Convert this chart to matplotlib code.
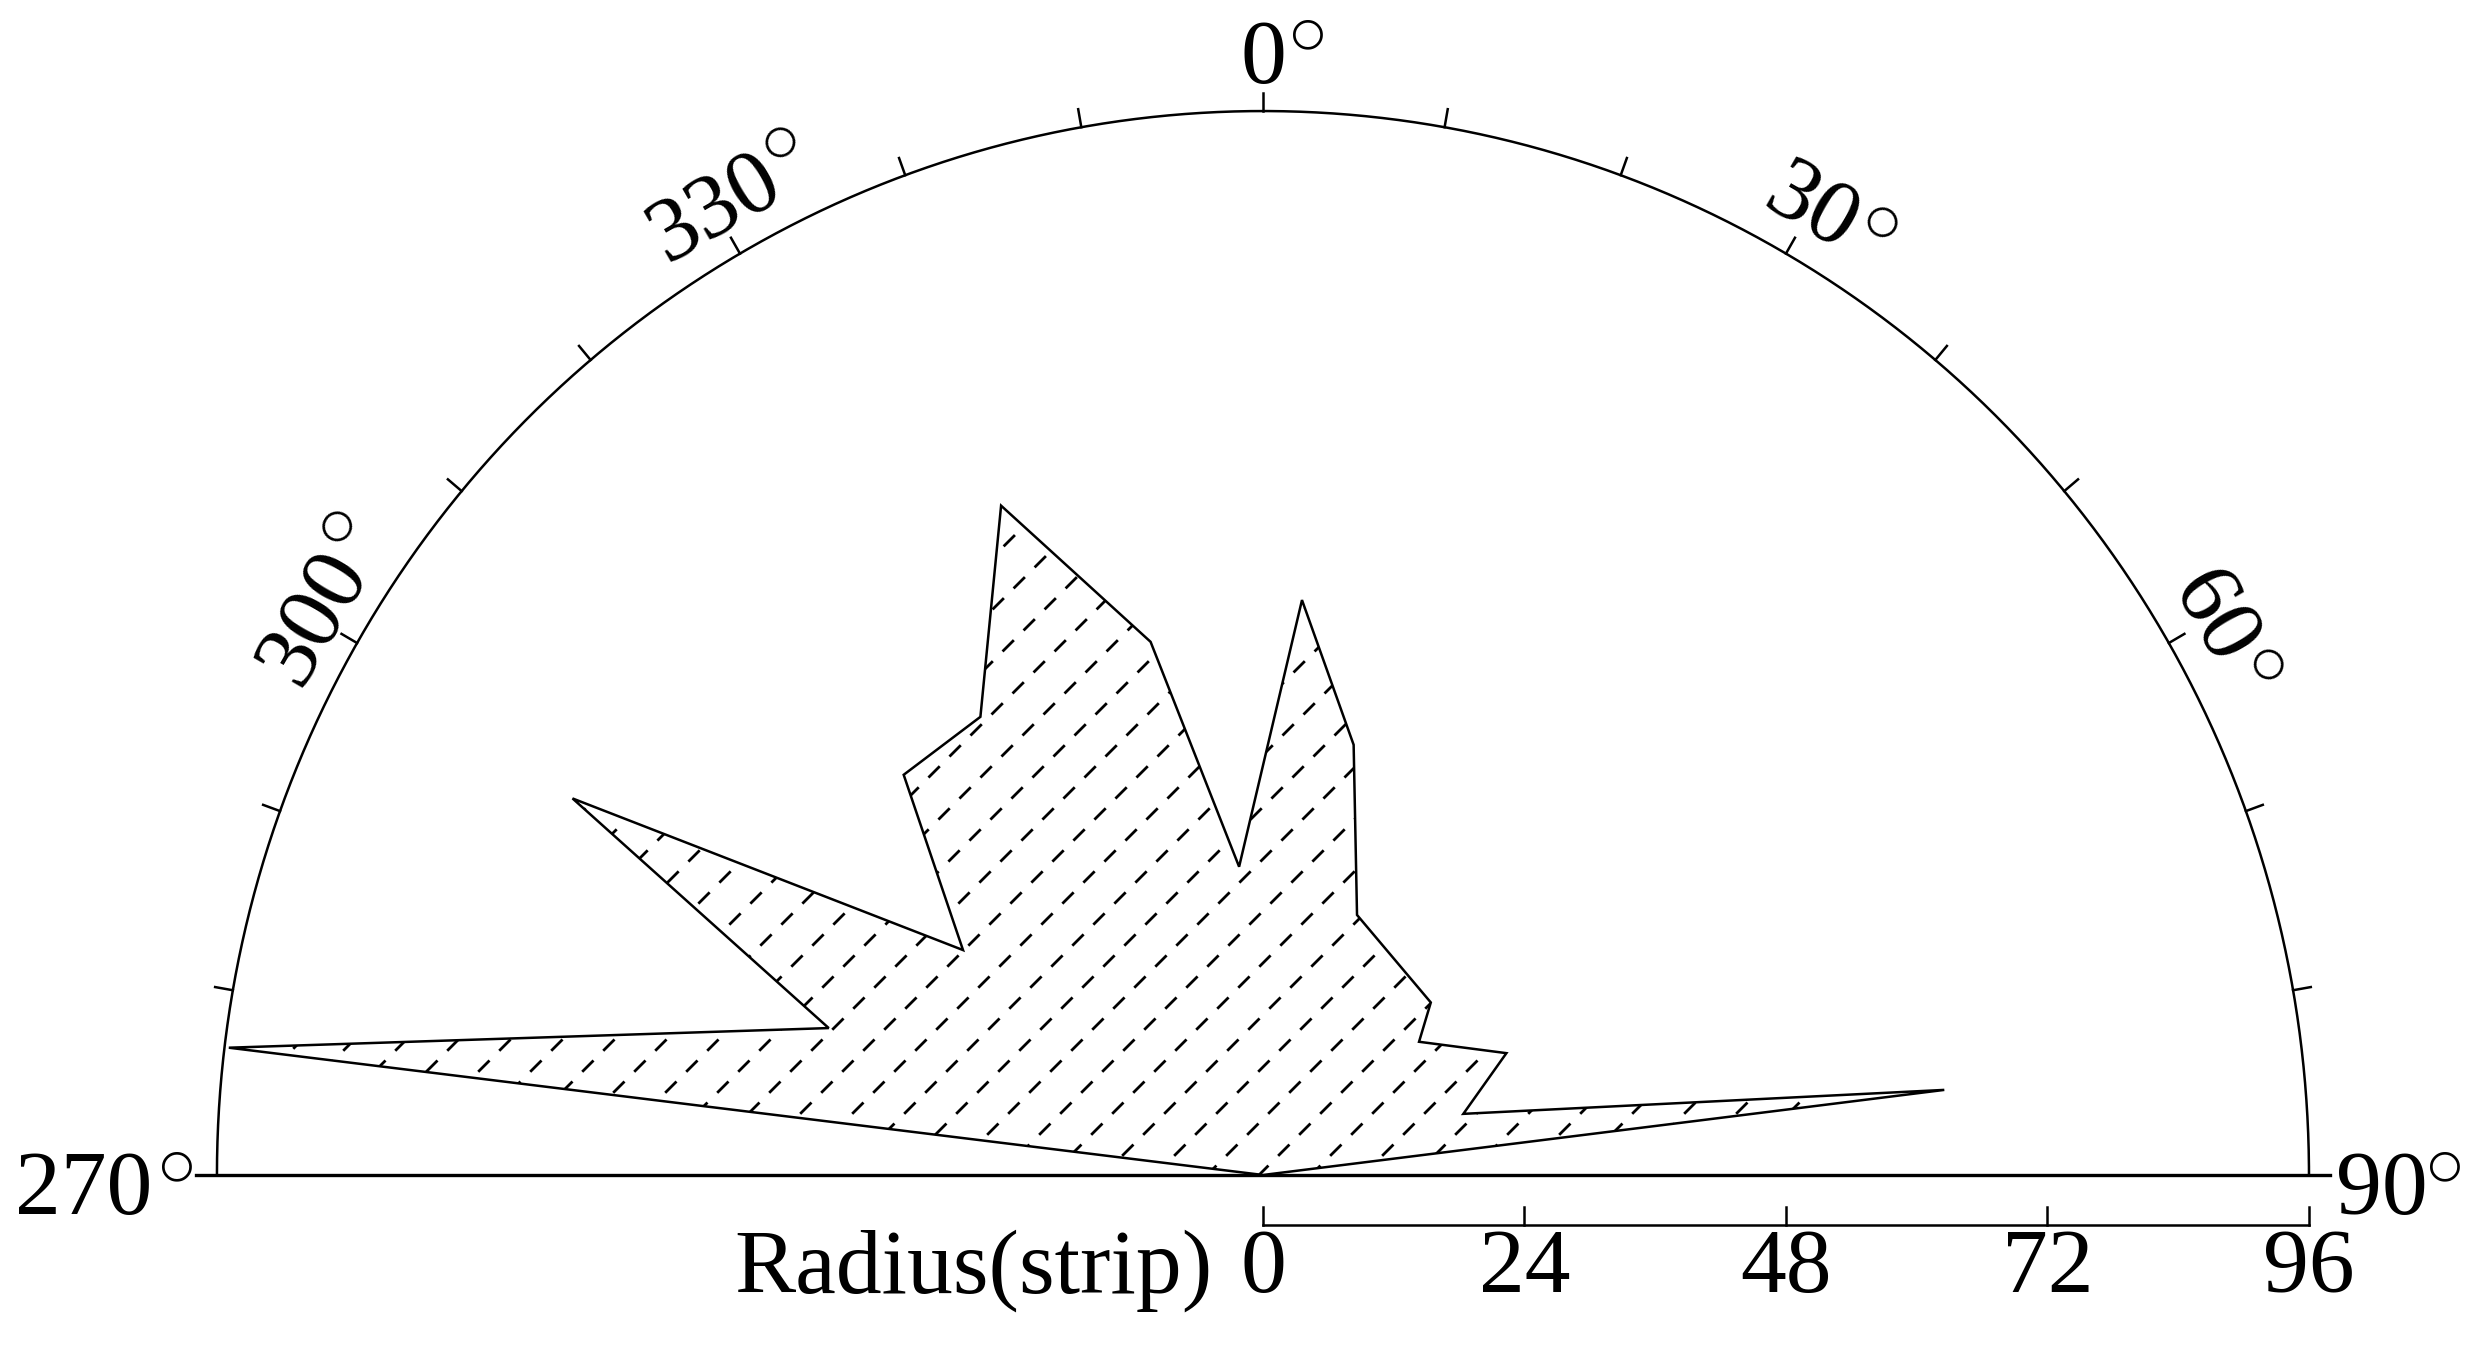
import numpy as np
import matplotlib
matplotlib.use('Agg')
import matplotlib.pyplot as plt
from matplotlib.patches import Polygon
from matplotlib.collections import LineCollection
from matplotlib.transforms import IdentityTransform

plt.rcParams['font.family'] = ['Liberation Serif', 'DejaVu Serif']
plt.rcParams['mathtext.fontset'] = 'stix'
plt.rcParams['lines.scale_dashes'] = False

# rose outline: azimuth (deg, clockwise from north) and radius (strip)
azimuth = [276.9, 288.4, 298.2, 306.4, 317.6, 327.9, 338.3, 347.9, 355.5,
           3.95, 12.1, 20.2, 44.7, 50.0, 63.8, 73.3, 83.0]
radius = [95.6, 42.0, 71.9, 34.2, 48.9, 48.8, 65.0, 49.2, 27.9,
          52.0, 39.7, 25.0, 21.9, 18.7, 24.9, 19.2, 63.0]

r_max = 96
angle_labels = [300, 330, 0, 30, 60]
radius_ticks = [0, 24, 48, 72, 96]

W, H = 2477, 1345
PT = 72 / 100  # points per pixel
fig = plt.figure(figsize=(W / 100, H / 100), dpi=100)
ax = fig.add_axes([0, 0, 1, 1])
ax.set_xlim(-115.91, 111.42)
ax.set_ylim(-15.34, 106.02)
ax.axis('off')


def to_xy(az, r):
    t = np.deg2rad(az)
    return r * np.sin(t), r * np.cos(t)


# outer half circle
t = np.linspace(-90, 90, 400)
ax.plot(*to_xy(t, r_max), color='k', lw=1.8)
# base line
ax.plot([-r_max - 1.9, r_max + 1.9], [0, 0], color='k', lw=2.4)
# ticks every 10 deg
for a in range(-80, 90, 10):
    x0, y0 = to_xy(a, r_max)
    x1, y1 = to_xy(a, r_max + 1.65)
    ax.plot([x0, x1], [y0, y1], color='k', lw=1.8)

# rose polygon
px, py = to_xy(np.array(azimuth), np.array(radius))
verts = [(0, 0)] + list(zip(px, py))
poly = Polygon(verts, closed=True, facecolor='white', edgecolor='none', zorder=2)
ax.add_patch(poly)

# dashed hatching clipped to the polygon
segs = [[(c, 0), (c + H, H)] for c in np.arange(-H - 10, W, 52)]
lc = LineCollection(segs, colors='k', linewidths=2.0,
                    linestyles=[(0, (11.5, 9.9))],
                    transform=IdentityTransform(), zorder=2.5)
ax.add_collection(lc)
lc.set_clip_path(poly)
outline = Polygon(verts, closed=True, facecolor='none', edgecolor='k',
                  lw=1.8, joinstyle='miter', zorder=4)
ax.add_patch(outline)

fs = 66
fs_deg = 29
digit_h = 61  # px


def rotvec(dx, dy, rot):
    c, s = np.cos(np.deg2rad(rot)), np.sin(np.deg2rad(rot))
    return ((dx * c - dy * s) * PT, (dx * s + dy * c) * PT)


def degree_label(xy, num, rot, ha_num='center'):
    half = len(num) * 23
    if ha_num == 'center':
        x_num, x_deg = 0, half + 21
    elif ha_num == 'right':
        x_num, x_deg = -35, -12
    else:
        x_num, x_deg = 0, 2 * half + 16
    ax.annotate(num, xy=xy, xytext=rotvec(x_num, -digit_h / 2, rot),
                textcoords='offset points', ha=ha_num, va='baseline',
                rotation=rot, rotation_mode='anchor', fontsize=fs)
    ax.annotate(r'$\bigcirc$', xy=xy, xytext=rotvec(x_deg, 16, rot),
                textcoords='offset points', ha='center', va='center',
                rotation=rot, rotation_mode='anchor', fontsize=fs_deg)


# angle labels around the arc
for a in angle_labels:
    rot = -a if a < 180 else 360 - a
    degree_label(to_xy(a, 101.3), str(a), rot)
# 270 / 90 at the ends of the base line
degree_label((-98.7, -0.8), '270', 0, ha_num='right')
degree_label((98.5, -0.8), '90', 0, ha_num='left')

# radius scale bar
bar_y = -4.5
ax.plot([0, r_max], [bar_y, bar_y], color='k', lw=1.8)
for v in radius_ticks:
    ax.plot([v, v], [bar_y, -2.9], color='k', lw=1.8)
    ax.text(v, -10.6, str(v), ha='center', va='baseline', fontsize=fs)
ax.text(-4.6, -10.6, 'Radius(strip)', ha='right', va='baseline', fontsize=fs)

fig.savefig('out.png', dpi=100)
